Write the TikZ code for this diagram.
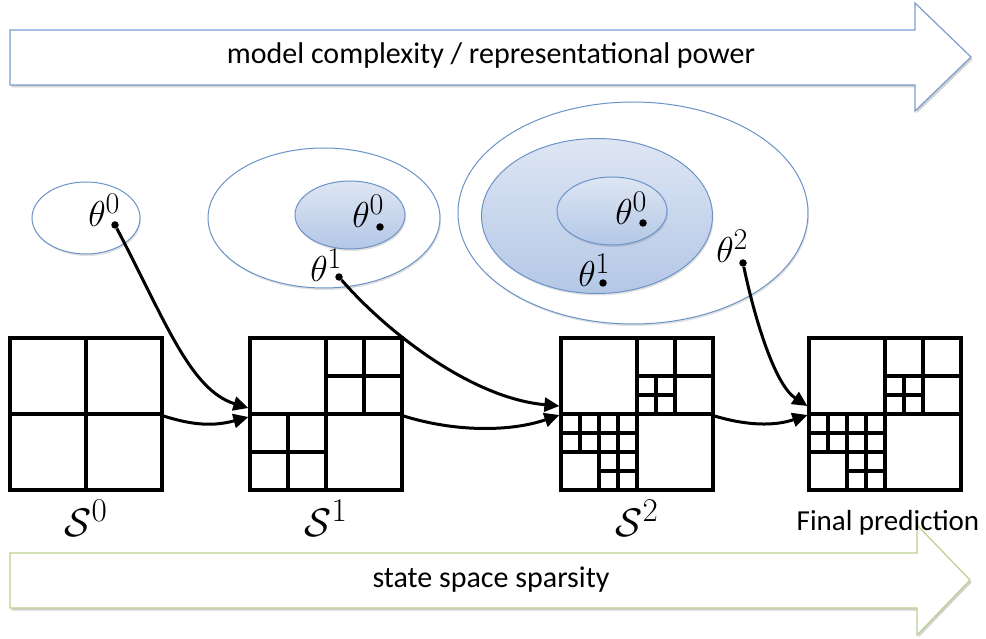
\documentclass[tikz,border=0pt]{standalone}
\usepackage{fontspec}
\setmainfont{Carlito}
\usetikzlibrary{arrows.meta,calc,shadows,shapes.geometric}

\definecolor{ellline}{HTML}{6B93C7}
\definecolor{elltop}{HTML}{DEE6F3}
\definecolor{ellbot}{HTML}{B3C7E6}
\definecolor{bluearrow}{HTML}{7C9DCF}
\definecolor{greenarrow}{HTML}{BCD08F}

\newcommand\plusin[3]{\draw (#1+#3/2,#2) -- (#1+#3/2,#2+#3); \draw (#1,#2+#3/2) -- (#1+#3,#2+#3/2);}
\newcommand\levelone{\plusin{0}{0}{8}}
\newcommand\leveltwo{\levelone\plusin{4}{0}{4}\plusin{0}{4}{4}}
\newcommand\levelthree{\leveltwo\plusin{4}{2}{2}\plusin{0}{4}{2}\plusin{2}{4}{2}\plusin{2}{6}{2}}

\begin{document}
\begin{tikzpicture}[x=1pt,y=-1pt,
  blockarrow/.style={line width=1.2pt, fill=white, line join=miter,
    drop shadow={shadow xshift=1.5pt,shadow yshift=-2.5pt,opacity=0.3,fill=black!60}},
  ell/.style={ellipse, draw=ellline, line width=1pt, inner sep=0pt, fill=white,
    drop shadow={shadow xshift=1pt,shadow yshift=-2pt,opacity=0.2,fill=black!60}},
  shadeell/.style={ell, top color=elltop, bottom color=ellbot},
  thlab/.style={inner sep=0pt, anchor=base west, font=\Huge, scale=1.45},
  thdot/.style={circle, fill=black, inner sep=0pt, minimum size=7.5pt},
  gridbox/.style={draw, line width=3.2pt, minimum size=152pt, inner sep=0pt, outer sep=0pt},
  gridlines/.style={line width=3.2pt},
  conn/.style={line width=3pt, -{Triangle[length=15pt,width=14pt]}},
  bigtext/.style={font=\fontsize{30}{36}\selectfont, inner sep=0pt, anchor=base},
  slab/.style={font=\Huge, scale=1.6, inner sep=0pt, anchor=base},
]
\useasboundingbox (0,0) rectangle (986,639);

% block arrows
\draw[blockarrow, draw=bluearrow] (10,30) -- (915,30) -- (915,3) -- (971,57) -- (915,111) -- (915,85) -- (10,85) -- cycle;
\node[bigtext] (toptext) at (491,64) {model complexity / representational power};
\draw[blockarrow, draw=greenarrow] (10,553) -- (917,553) -- (917,525) -- (970,580) -- (917,635) -- (917,608) -- (10,608) -- cycle;
\node[bigtext] (bottext) at (491,587) {state space sparsity};

% ellipses
\node[ell, minimum width=108pt, minimum height=72pt] (e1) at (86,218) {};
\node[ell, minimum width=232pt, minimum height=140pt] (e2out) at (324,218) {};
\node[shadeell, minimum width=110pt, minimum height=68pt] (e2in) at (350,215) {};
\node[ell, minimum width=350pt, minimum height=222pt] (e3out) at (633,213) {};
\node[shadeell, minimum width=231pt, minimum height=155pt] (e3mid) at (597,216) {};
\node[shadeell, minimum width=110pt, minimum height=68pt] (e3in) at (612,211) {};

% parameter labels
\node[thlab] (t10) at (88,227) {$\theta^0$};
\node[thlab] (t20) at (352,228) {$\theta^0$};
\node[thlab] (t21) at (310,282) {$\theta^1$};
\node[thlab] (t30) at (615,225) {$\theta^0$};
\node[thlab] (t31) at (578,287) {$\theta^1$};
\node[thlab] (t32) at (716,263) {$\theta^2$};

\node[thdot] (d10) at (115,225) {};
\node[thdot] (d20) at (380,227) {};
\node[thdot] (d21) at (339,277) {};
\node[thdot] (d30) at (643,223) {};
\node[thdot] (d31) at (603,283) {};
\node[thdot] (d32) at (743,263) {};

% grids
\node[gridbox] (g0) at (86,414) {};
\node[gridbox] (g1) at (326,414) {};
\node[gridbox] (g2) at (637,414) {};
\node[gridbox] (g3) at (885,414) {};
\begin{scope}[shift={(g0.north west)}, x=19pt, y=-19pt, gridlines] \levelone \end{scope}
\begin{scope}[shift={(g1.north west)}, x=19pt, y=-19pt, gridlines] \leveltwo \end{scope}
\begin{scope}[shift={(g2.north west)}, x=19pt, y=-19pt, gridlines] \levelthree \end{scope}
\begin{scope}[shift={(g3.north west)}, x=19pt, y=-19pt, gridlines] \levelthree \end{scope}

% labels
\node[slab] (s0) at ($(g0.south)+(0,46)$) {$\mathcal{S}^0$};
\node[slab] (s1) at ($(g1.south)+(0,46)$) {$\mathcal{S}^1$};
\node[slab] (s2) at ($(g2.south)+(0,46)$) {$\mathcal{S}^2$};
\node[font=\fontsize{29}{34}\selectfont, inner sep=0pt, anchor=base] (final) at (888,530) {Final prediction};

% connector end points
\coordinate (in1a) at ($(g1.west)+(-1.6,-6)$);
\coordinate (in1b) at ($(g1.west)+(-1.6,3)$);
\coordinate (in2a) at ($(g2.west)+(-1.6,-8)$);
\coordinate (in2b) at ($(g2.west)+(-1.6,1)$);
\coordinate (in3a) at ($(g3.west)+(-1.6,-8)$);
\coordinate (in3b) at ($(g3.west)+(-1.6,1)$);
\coordinate (out0) at ($(g0.east)+(1.6,2)$);
\coordinate (out1) at ($(g1.east)+(1.6,2)$);
\coordinate (out2) at ($(g2.east)+(1.6,2)$);

% connectors
\draw[conn] (d10) .. controls (165,320) and (190,390) .. (in1a);
\draw[conn] (out0) .. controls (195,426) and (215,426) .. (in1b);
\draw[conn] (d21) .. controls (385,330) and (470,398) .. (in2a);
\draw[conn] (out1) .. controls (455,432) and (510,432) .. (in2b);
\draw[conn] (d32) .. controls (755,320) and (775,385) .. (in3a);
\draw[conn] (out2) .. controls (748,426) and (775,426) .. (in3b);
\end{tikzpicture}
\end{document}
